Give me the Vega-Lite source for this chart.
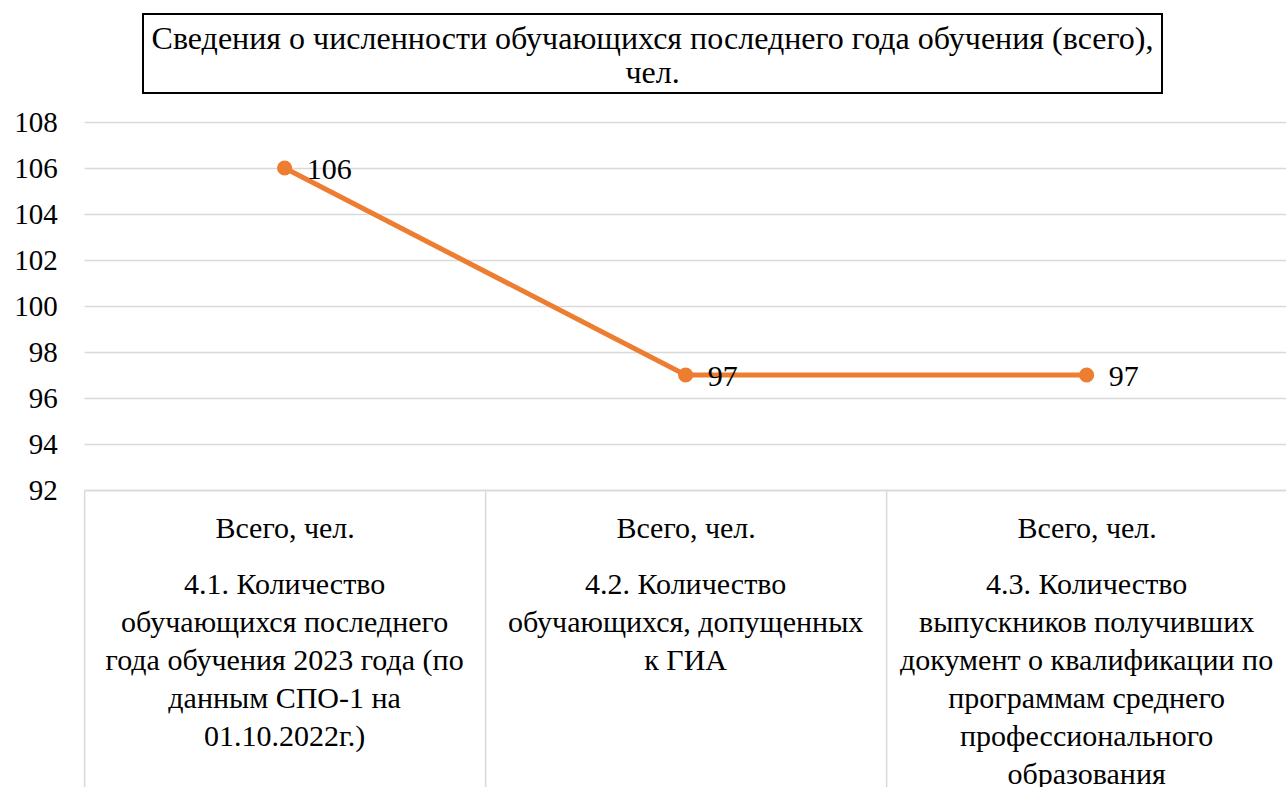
{
  "$schema": "https://vega.github.io/schema/vega-lite/v6.json",
  "padding": {"left": 13, "top": 13, "right": 0, "bottom": 0},
  "background": "white",
  "config": {
    "view": {"stroke": null},
    "font": "Liberation Serif",
    "text": {"font": "Liberation Serif", "color": "black"}
  },
  "datasets": {
    "title": [{"t": "Сведения о численности обучающихся последнего года обучения (всего),\nчел."}],
    "main": [
      {"cat": "Всего, чел.|4.1. Количество|обучающихся последнего|года обучения 2023 года (по|данным СПО-1 на|01.10.2022г.)", "v": 106},
      {"cat": "Всего, чел.|4.2. Количество|обучающихся, допущенных|к ГИА", "v": 97},
      {"cat": "Всего, чел.|4.3. Количество|выпускников получивших|документ о квалификации по|программам среднего|профессионального|образования", "v": 97}
    ]
  },
  "vconcat": [
    {
      "width": 1019,
      "height": 79,
      "view": {"stroke": "black", "strokeWidth": 2},
      "data": {"name": "title"},
      "mark": {"type": "text", "font": "Liberation Serif", "fontSize": 32, "lineBreak": "\n", "lineHeight": 34, "align": "center", "baseline": "middle", "dy": -14.5},
      "encoding": {
        "text": {"field": "t"},
        "y": {"field": "t", "type": "nominal",
              "axis": {"orient": "right", "title": null, "labels": false, "ticks": false, "domain": false, "grid": false, "minExtent": 66, "maxExtent": 66}}
      }
    },
    {
      "width": 1203,
      "height": 368,
      "data": {"name": "main"},
      "encoding": {
        "y": {
          "field": "v", "type": "quantitative",
          "scale": {"domain": [92, 108], "zero": false, "nice": false},
          "axis": {
            "title": null, "values": [92, 94, 96, 98, 100, 102, 104, 106, 108],
            "domain": false, "ticks": false, "grid": true, "gridColor": "#D9D9D9", "gridWidth": 1.5,
            "labelFontSize": 29, "labelColor": "black", "labelPadding": 27, "labelFont": "Liberation Serif"
          }
        }
      },
      "layer": [
        {
          "mark": {"type": "line", "color": "#ED7D31", "strokeWidth": 5,
                   "point": {"filled": true, "size": 230, "color": "#ED7D31"}},
          "encoding": {
            "x": {
              "field": "cat", "type": "nominal", "sort": null,
              "scale": {"type": "band", "paddingInner": 0, "paddingOuter": 0},
              "axis": {
                "title": null, "orient": "bottom", "labelAngle": 0,
                "labelExpr": "datum.value ? split(datum.value, '|')[0] : ''",
                "domain": true, "domainColor": "#D9D9D9", "domainWidth": 1.5,
                "ticks": true, "tickBand": "extent", "tickSize": 297, "tickColor": "#D9D9D9", "tickWidth": 1.5,
                "labelPadding": -274, "labelFontSize": 30, "labelColor": "black", "labelFont": "Liberation Serif",
                "labelLimit": 600, "grid": false
              }
            }
          }
        },
        {
          "mark": {"type": "text", "align": "left", "baseline": "middle", "dx": 22, "dy": 2, "fontSize": 30, "font": "Liberation Serif"},
          "encoding": {
            "x": {
              "field": "cat", "type": "nominal", "sort": null,
              "scale": {"type": "band", "paddingInner": 0, "paddingOuter": 0},
              "axis": {
                "title": null, "orient": "bottom", "labelAngle": 0,
                "labelExpr": "datum.value ? slice(split(datum.value, '|'), 1) : ''",
                "domain": false, "ticks": false, "grid": false,
                "labelPadding": 79, "labelFontSize": 30, "labelLineHeight": 38, "labelColor": "black",
                "labelFont": "Liberation Serif", "labelLimit": 600
              }
            },
            "text": {"field": "v", "type": "quantitative"}
          }
        }
      ],
      "resolve": {"axis": {"x": "independent"}}
    }
  ],
  "spacing": 14,
  "center": true
}
